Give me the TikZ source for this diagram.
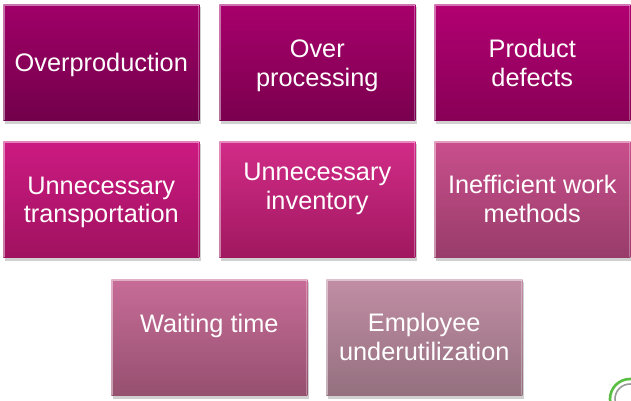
\documentclass[tikz,border=0pt]{standalone}
\usepackage{fontspec}
\setmainfont{Liberation Sans}
\usetikzlibrary{calc}
\definecolor{t1}{HTML}{A00068}\definecolor{b1}{HTML}{72004A}
\definecolor{t2}{HTML}{A8006C}\definecolor{b2}{HTML}{7A004E}
\definecolor{t3}{HTML}{B20072}\definecolor{b3}{HTML}{880056}
\definecolor{t4}{HTML}{CC1A82}\definecolor{b4}{HTML}{A0125F}
\definecolor{t5}{HTML}{D22C88}\definecolor{b5}{HTML}{A0185F}
\definecolor{t6}{HTML}{C94F8C}\definecolor{b6}{HTML}{983C6A}
\definecolor{t7}{HTML}{C76C97}\definecolor{b7}{HTML}{965070}
\definecolor{t8}{HTML}{C18DA4}\definecolor{b8}{HTML}{94707F}
\definecolor{ringgreen}{HTML}{5BBE45}
\tikzset{
  box/.style n args={2}{rectangle, minimum width=196*0.75pt, minimum height=116*0.75pt,
    inner sep=0pt, top color=#1, bottom color=#2},
  txt/.style={text=white, align=center, font=\fontsize{19}{21.5}\selectfont, inner sep=0pt},
  hilite/.style={draw=white, opacity=0.45, line width=1.2pt},
}
\begin{document}
\begin{tikzpicture}[x=0.75pt,y=-0.75pt]
\useasboundingbox (0,0) rectangle (631,400);
\fill[white] (0,0) rectangle (631,400);
% shadows
\foreach \x/\y in {3/4,219/4,434/4,3/141,219/141,434/141,111/279,326/279}{
  \fill[black!30, opacity=0.6] (\x+2,\y+3) rectangle (\x+198,\y+120);
}
\node[box={t1}{b1}, anchor=north west] (n1) at (3,4) {};
\node[box={t2}{b2}, anchor=north west] (n2) at (219,4) {};
\node[box={t3}{b3}, anchor=north west] (n3) at (434,4) {};
\node[box={t4}{b4}, anchor=north west] (n4) at (3,141) {};
\node[box={t5}{b5}, anchor=north west] (n5) at (219,141) {};
\node[box={t6}{b6}, anchor=north west] (n6) at (434,141) {};
\node[box={t7}{b7}, anchor=north west] (n7) at (111,279) {};
\node[box={t8}{b8}, anchor=north west] (n8) at (326,279) {};
% bevel highlights
\foreach \n in {n1,n2,n3,n4,n5,n6,n7,n8}{
  \draw[hilite] ($(\n.south west)+(1,-1)$) -- ($(\n.north west)+(1,1)$) -- ($(\n.north east)+(-1,1)$);
  \draw[draw=white, opacity=0.3, line width=1.2pt] ($(\n.north east)+(-1,1)$) -- ($(\n.south east)+(-1,-1)$);
}
\node[txt] (l1) at ($(n1.center)+(0,3)$) {Overproduction};
\node[txt] (l2) at ($(n2.center)+(0,3.5)$) {Over\\processing};
\node[txt] (l3) at ($(n3.center)+(0,1)$) {Product\\defects};
\node[txt] (l4) at ($(n4.center)+(0,3)$) {Unnecessary\\transportation};
\node[txt] (l5) at ($(n5.center)+(0,-10.5)$) {Unnecessary\\inventory};
\node[txt] (l6) at ($(n6.center)+(0,-0.5)$) {Inefficient work\\methods};
\node[txt] (l7) at ($(n7.center)+(0,-11)$) {Waiting time};
\node[txt] (l8) at ($(n8.center)+(0,0)$) {Employee\\underutilization};
% partial ring at bottom right
\begin{scope}
\clip (0,0) rectangle (631,400);
\draw[ringgreen, line width=2pt] (630,399) circle[radius=20];
\draw[black!40, line width=1.2pt] (630,399) circle[radius=15];
\end{scope}
\end{tikzpicture}
\end{document}
